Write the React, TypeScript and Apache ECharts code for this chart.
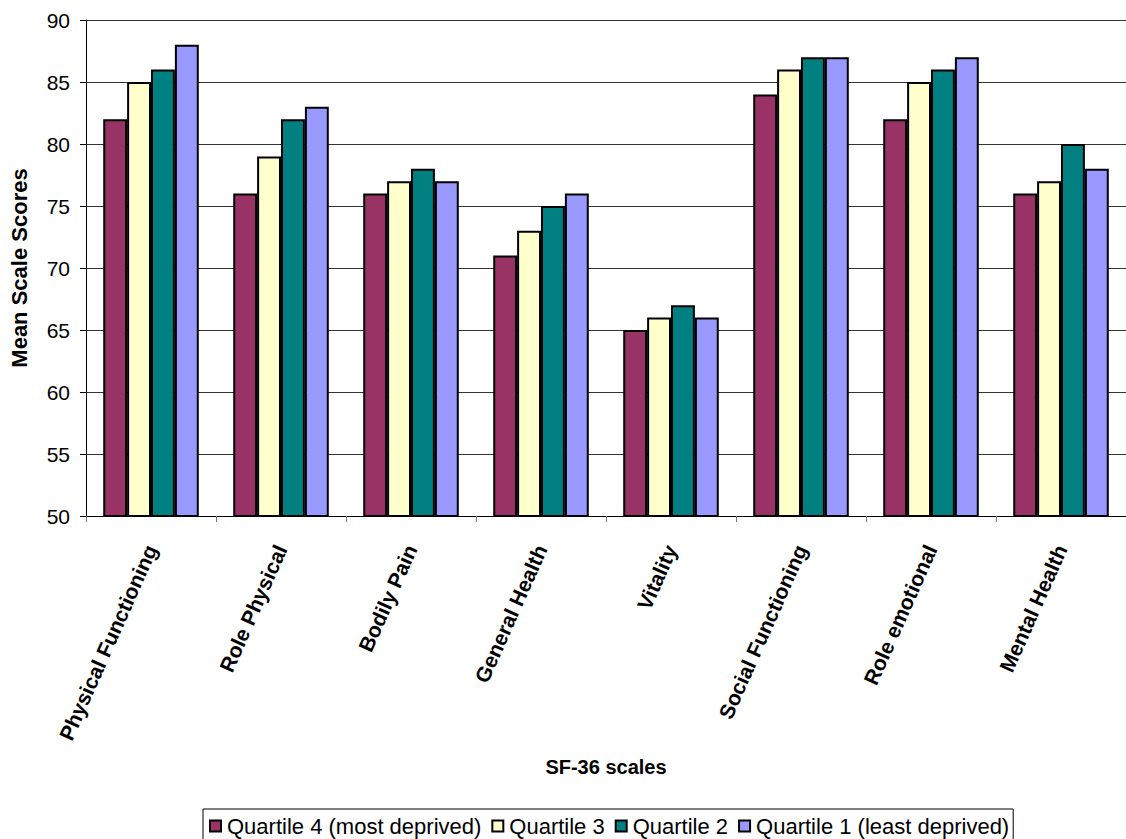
import React, { useEffect, useRef } from "react";
import * as echarts from "echarts";

// SF-36 scale means by deprivation quartile
const categories = [
  "Physical Functioning",
  "Role Physical",
  "Bodily Pain",
  "General Health",
  "Vitality",
  "Social Functioning",
  "Role emotional",
  "Mental Health",
];

const quartile4 = [82, 76, 76, 71, 65, 84, 82, 76];
const quartile3 = [85, 79, 77, 73, 66, 86, 85, 77];
const quartile2 = [86, 82, 78, 75, 67, 87, 86, 80];
const quartile1 = [88, 83, 77, 76, 66, 87, 87, 78];

const seriesNames = [
  "Quartile 4 (most deprived)",
  "Quartile 3",
  "Quartile 2",
  "Quartile 1 (least deprived)",
];
const seriesColors = ["#993366", "#FFFFCC", "#008080", "#9999FF"];
const seriesValues = [quartile4, quartile3, quartile2, quartile1];

const FONT = "'Liberation Sans', Arial, sans-serif";

export default function App() {
  const ref = useRef<HTMLDivElement>(null);

  useEffect(() => {
    if (!ref.current) return;
    const chart = echarts.init(ref.current, undefined, { renderer: "svg" });
    chart.setOption({
      animation: false,
      backgroundColor: "#ffffff",
      textStyle: { fontFamily: FONT },
      grid: { left: 83, right: -3, top: 20, bottom: 323 },
      legend: {
        left: 203,
        top: 809,
        orient: "horizontal",
        icon: "rect",
        itemWidth: 11,
        itemHeight: 11,
        itemGap: 10,
        padding: [6, 4, 14, 6],
        borderColor: "#000",
        borderWidth: 1,
        textStyle: { fontFamily: FONT, fontSize: 22, color: "#000", padding: [0, 0, 0, 1] },
        data: seriesNames.map((n) => ({ name: n, itemStyle: { borderColor: "#000", borderWidth: 2 } })),
      },
      xAxis: {
        type: "category",
        data: categories,
        boundaryGap: true,
        name: "SF-36 scales",
        nameLocation: "middle",
        nameGap: 241,
        nameTextStyle: { fontFamily: FONT, fontSize: 20, fontWeight: "bold", color: "#000" },
        axisLine: { lineStyle: { color: "#000", width: 1 } },
        axisTick: { show: true, length: 6, lineStyle: { color: "#777" } },
        axisLabel: {
          rotate: 66,
          margin: 30,
          interval: 0,
          fontFamily: FONT,
          fontSize: 21,
          fontWeight: "bold",
          color: "#000",
        },
      },
      yAxis: {
        type: "value",
        min: 50,
        max: 90,
        interval: 5,
        name: "Mean Scale Scores",
        nameLocation: "middle",
        nameGap: 56,
        nameTextStyle: { fontFamily: FONT, fontSize: 22, fontWeight: "bold", color: "#000" },
        axisLine: { show: true, lineStyle: { color: "#000", width: 1 } },
        axisTick: { show: true, length: 6, lineStyle: { color: "#000" } },
        axisLabel: { margin: 16, fontFamily: FONT, fontSize: 21, color: "#000" },
        splitLine: { show: true, lineStyle: { color: "#333", width: 1 } },
      },
      series: seriesValues.map((vals, i) => ({
        type: "bar",
        name: seriesNames[i],
        data: vals,
        barGap: "0%",
        barCategoryGap: "26.5%",
        itemStyle: { color: seriesColors[i], borderColor: "#000", borderWidth: 2 },
      })),
    });
    return () => chart.dispose();
  }, []);

  return (
    <div
      ref={ref}
      style={{ position: "absolute", left: 0, top: 0, width: 1126, height: 839 }}
    />
  );
}
